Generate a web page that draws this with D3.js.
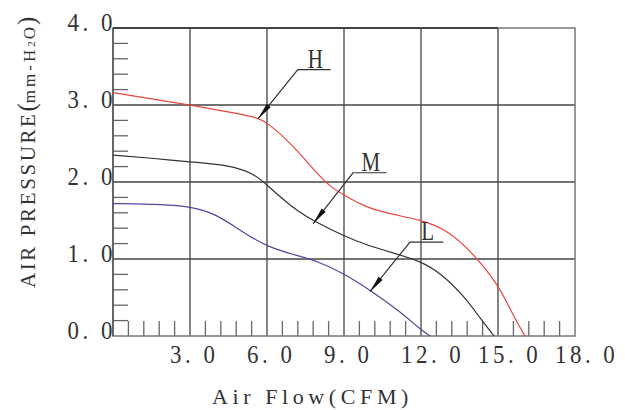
<!DOCTYPE html>
<html>
<head>
<meta charset="utf-8">
<script src="https://cdn.jsdelivr.net/npm/d3@7"></script>
<style>
  body { margin: 0; background: #fff; }
  text { font-family: "Liberation Serif", "DejaVu Serif", serif; fill: #333; }
</style>
</head>
<body>
<svg id="chart" width="625" height="410"></svg>
<script>
// air flow (CFM) vs air pressure (mm-H2O)
var curveH = [[0, 3.16], [1.5, 3.08], [3, 3.0], [4.5, 2.91], [5.5, 2.85], [6, 2.78], [7, 2.48], [8, 2.09],
              [8.5, 1.93], [9, 1.83], [9.8, 1.68], [10.7, 1.59], [12, 1.51], [13, 1.38], [13.9, 1.12],
              [15, 0.68], [15.6, 0.26], [16.05, 0]];
var curveM = [[0, 2.35], [1.5, 2.31], [3, 2.26], [4.5, 2.22], [5.5, 2.11], [6, 1.96], [7, 1.66], [8, 1.46],
              [9, 1.3], [9.8, 1.19], [11, 1.07], [12, 0.97], [12.8, 0.81], [13.7, 0.51], [14.35, 0.21],
              [14.85, 0]];
var curveL = [[0, 1.72], [2, 1.71], [3, 1.68], [4, 1.59], [5, 1.36], [6, 1.16], [7, 1.06], [8, 0.97],
              [9, 0.81], [10, 0.6], [11.1, 0.34], [12, 0.08], [12.35, 0]];

var xTicks = [3, 6, 9, 12, 15, 18];
var xTickLabels = ["3. 0", "6. 0", "9. 0", "12. 0", "15. 0", "18. 0"];
var yTicks = [0, 1, 2, 3, 4];
var yTickLabels = ["0. 0", "1. 0", "2. 0", "3. 0", "4. 0"];

// label, underline start/end x, underline y, arrow tip
var labels = [
  { name: "H", x0: 7.2, x1: 8.48, y: 3.46, tipX: 5.65, tipY: 2.82 },
  { name: "M", x0: 9.35, x1: 10.66, y: 2.12, tipX: 7.8, tipY: 1.46 },
  { name: "L", x0: 11.57, x1: 12.87, y: 1.22, tipX: 10.01, tipY: 0.575 }
];

var svg = d3.select("#chart");
var padding = { top: 28, right: 50, bottom: 74, left: 113 };
var width = +svg.attr("width");
var height = +svg.attr("height");

var xScale = d3.scaleLinear()
               .domain([0, 18])
               .range([padding.left, width - padding.right]);
var yScale = d3.scaleLinear()
               .domain([0, 4])
               .range([height - padding.bottom, padding.top]);

var x0 = xScale(0), x1 = xScale(18), y0 = yScale(0), y1 = yScale(4);

// minor ticks
var xMinor = d3.range(0, 18, 0.6).filter(d => Math.abs(d / 3 - Math.round(d / 3)) > 0.01);
var yMinor = d3.range(0, 4, 0.2).filter(d => Math.abs(d - Math.round(d)) > 0.01);

svg.append("g").selectAll("line")
    .data(xMinor)
    .enter().append("line")
      .attr("x1", d => xScale(d)).attr("x2", d => xScale(d))
      .attr("y1", y0).attr("y2", y0 - 15)
      .attr("stroke", "#666").attr("stroke-width", 1.3);

svg.append("g").selectAll("line")
    .data(yMinor)
    .enter().append("line")
      .attr("x1", x0).attr("x2", x0 + 15)
      .attr("y1", d => yScale(d)).attr("y2", d => yScale(d))
      .attr("stroke", "#666").attr("stroke-width", 1.3);

// grid
svg.append("g").selectAll("line")
    .data(xTicks.slice(0, -1))
    .enter().append("line")
      .attr("x1", d => xScale(d)).attr("x2", d => xScale(d))
      .attr("y1", y0).attr("y2", y1)
      .attr("stroke", "#444").attr("stroke-width", 1.3);

svg.append("g").selectAll("line")
    .data(yTicks.slice(1, -1))
    .enter().append("line")
      .attr("x1", x0).attr("x2", x1)
      .attr("y1", d => yScale(d)).attr("y2", d => yScale(d))
      .attr("stroke", "#444").attr("stroke-width", 1.3);

// frame
svg.append("rect")
    .attr("x", x0).attr("y", y1)
    .attr("width", x1 - x0).attr("height", y0 - y1)
    .attr("fill", "none")
    .attr("stroke", "#777").attr("stroke-width", 1.5);
svg.append("line")
    .attr("x1", x0).attr("x2", xScale(15))
    .attr("y1", y1).attr("y2", y1)
    .attr("stroke", "#444").attr("stroke-width", 2);
svg.append("line")
    .attr("x1", x0).attr("x2", x0)
    .attr("y1", y0).attr("y2", y1)
    .attr("stroke", "#555").attr("stroke-width", 1.5);

// tick labels (narrow serif look)
svg.append("g").selectAll("text")
    .data(xTicks)
    .enter().append("text")
      .attr("transform", d => "translate(" + (xScale(d) - 20) + "," + (y0 + 27) + ") scale(0.88,1)")
      .attr("font-size", 26)
      .attr("letter-spacing", 4)
      .text((d, i) => xTickLabels[i]);

svg.append("g").selectAll("text")
    .data(yTicks)
    .enter().append("text")
      .attr("transform", d => "translate(" + (x0 + 3) + "," + (yScale(d) + 3) + ") scale(0.88,1)")
      .attr("text-anchor", "end")
      .attr("font-size", 26)
      .attr("letter-spacing", 4)
      .text((d, i) => yTickLabels[i]);

// axis titles
svg.append("text")
    .attr("x", 212)
    .attr("y", 404)
    .attr("font-size", 22)
    .attr("letter-spacing", 4.6)
    .text("Air Flow(CFM)");

var yTitle = svg.append("text")
    .attr("transform", "translate(35,288) rotate(-90)")
    .attr("font-size", 21);
yTitle.append("tspan").attr("letter-spacing", 2.6).text("AIR PRESSURE");
yTitle.append("tspan").attr("font-size", 25).text("(");
yTitle.append("tspan").attr("font-size", 17).attr("letter-spacing", 3).text("mm-H");
yTitle.append("tspan").attr("font-size", 11).attr("letter-spacing", 2).text("2");
yTitle.append("tspan").attr("font-size", 17).attr("letter-spacing", 2).text("O");
yTitle.append("tspan").attr("font-size", 25).text(")");

// curves
var line = d3.line()
             .x(d => xScale(d[0]))
             .y(d => yScale(d[1]))
             .curve(d3.curveBasis);

var series = [
  { data: curveH, color: "#e8463e" },
  { data: curveM, color: "#333333" },
  { data: curveL, color: "#4b4a9c" }
];

svg.append("g").selectAll("path")
    .data(series)
    .enter().append("path")
      .attr("d", d => line(d.data))
      .attr("fill", "none")
      .attr("stroke", d => d.color)
      .attr("stroke-width", 1.2);

// leader lines with arrows
var ann = svg.append("g").selectAll("g")
    .data(labels)
    .enter().append("g");

ann.append("polyline")
    .attr("points", d => [
        [xScale(d.x1), yScale(d.y)],
        [xScale(d.x0), yScale(d.y)],
        [xScale(d.tipX), yScale(d.tipY)]
      ].join(" "))
    .attr("fill", "none")
    .attr("stroke", "#333")
    .attr("stroke-width", 1.2);

ann.append("polygon")
    .attr("points", function(d) {
      var tx = xScale(d.tipX), ty = yScale(d.tipY);
      var dx = xScale(d.x0) - tx, dy = yScale(d.y) - ty;
      var len = Math.sqrt(dx * dx + dy * dy);
      var ux = dx / len, uy = dy / len;
      var bx = tx + ux * 17, by = ty + uy * 17;
      return [[tx, ty], [bx - uy * 2.6, by + ux * 2.6], [bx + uy * 2.6, by - ux * 2.6]].join(" ");
    })
    .attr("fill", "#111");

ann.append("text")
    .attr("transform", d => "translate(" + ((xScale(d.x0) + xScale(d.x1)) / 2 + 1) + "," + (yScale(d.y) - 2) + ") scale(0.75,1)")
    .attr("text-anchor", "middle")
    .attr("font-size", 28)
    .text(d => d.name);
</script>
</body>
</html>
